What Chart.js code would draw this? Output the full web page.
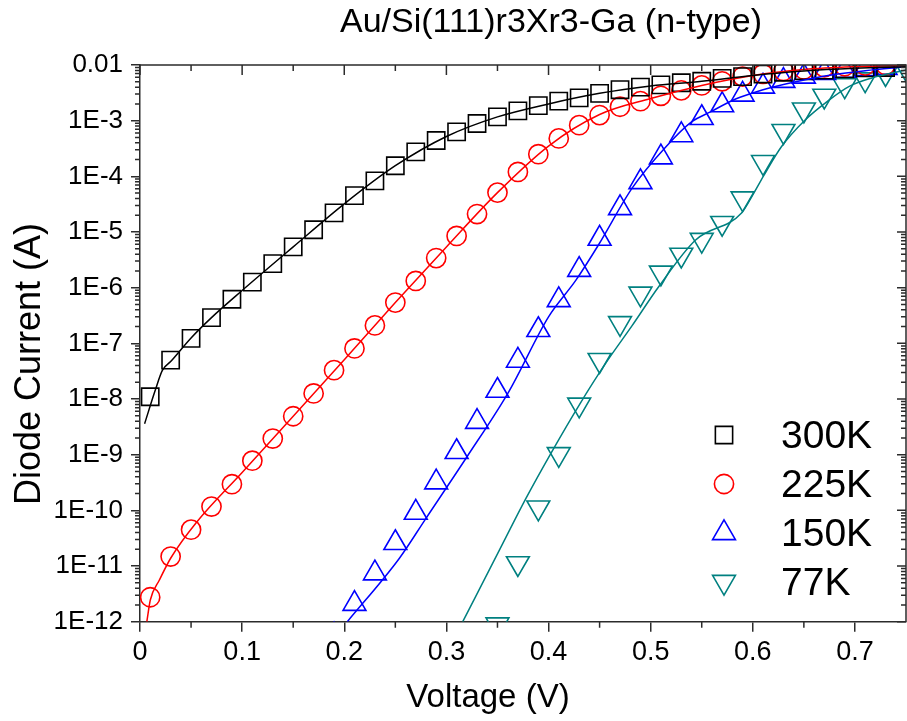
<!DOCTYPE html>
<html>
<head>
<meta charset="utf-8">
<script src="https://cdn.jsdelivr.net/npm/chart.js@4.4.1/dist/chart.umd.min.js"></script>
<style>
html,body{margin:0;padding:0;background:#fff;overflow:hidden}
#wrap{width:907px;height:721px;position:relative}
</style>
</head>
<body>
<div id="wrap"><canvas id="c" width="907" height="721"></canvas></div>
<script>
// ---------------- text ----------------
const chartTitle = 'Au/Si(111)r3Xr3-Ga (n-type)';
const xAxisTitle = 'Voltage (V)';
const yAxisTitle = 'Diode Current (A)';
const seriesNames = ['300K', '225K', '150K', '77K'];

// ---------------- ticks ----------------
const xTickValues = [0, 0.1, 0.2, 0.3, 0.4, 0.5, 0.6, 0.7];
const xTickLabels = ['0', '0.1', '0.2', '0.3', '0.4', '0.5', '0.6', '0.7'];
const xMinorTickValues = [0.05, 0.15, 0.25, 0.35, 0.45, 0.55, 0.65];
const yTickValues = [1e-12, 1e-11, 1e-10, 1e-9, 1e-8, 1e-7, 1e-6, 1e-5, 1e-4, 1e-3, 1e-2];
const yTickLabels = ['1E-12', '1E-11', '1E-10', '1E-9', '1E-8', '1E-7', '1E-6', '1E-5', '1E-4', '1E-3', '0.01'];
const yMinorMultipliers = [2, 3, 4, 5, 6, 7, 8, 9];

// ---------------- measured data (V, A) ----------------
const v300 = [0.01,0.03,0.05,0.07,0.09,0.11,0.13,0.15,0.17,0.19,0.21,0.23,0.25,0.27,0.29,0.31,0.33,0.35,0.37,0.39,0.41,0.43,0.45,0.47,0.49,0.51,0.53,0.55,0.57,0.59,0.61,0.63,0.65,0.67,0.69,0.71,0.73];
const i300 = [1.1e-8,5.0e-8,1.23e-7,2.9e-7,6.2e-7,1.26e-6,2.7e-6,5.4e-6,1.1e-5,2.2e-5,4.5e-5,8.3e-5,1.55e-4,2.75e-4,4.4e-4,6.3e-4,8.9e-4,1.17e-3,1.5e-3,1.86e-3,2.24e-3,2.57e-3,3.1e-3,3.6e-3,4.0e-3,4.4e-3,4.8e-3,5.1e-3,5.75e-3,6.2e-3,6.9e-3,7.4e-3,7.9e-3,8.1e-3,8.5e-3,8.9e-3,9.0e-3];

const v225 = [0.01,0.03,0.05,0.07,0.09,0.11,0.13,0.15,0.17,0.19,0.21,0.23,0.25,0.27,0.29,0.31,0.33,0.35,0.37,0.39,0.41,0.43,0.45,0.47,0.49,0.51,0.53,0.55,0.57,0.59,0.61,0.63,0.65,0.67,0.69,0.71,0.73];
const i225 = [2.75e-12,1.48e-11,4.5e-11,1.17e-10,2.95e-10,7.8e-10,1.95e-9,4.9e-9,1.26e-8,3.3e-8,8.1e-8,2.1e-7,5.4e-7,1.32e-6,3.4e-6,8.5e-6,2.1e-5,5.1e-5,1.2e-4,2.5e-4,4.8e-4,8.3e-4,1.26e-3,1.78e-3,2.24e-3,2.8e-3,3.5e-3,4.3e-3,5.1e-3,6.2e-3,6.9e-3,7.8e-3,8.3e-3,9.1e-3,9.5e-3,9.8e-3,1.0e-2];

const v150 = [0.19,0.21,0.23,0.25,0.27,0.29,0.31,0.33,0.35,0.37,0.39,0.41,0.43,0.45,0.47,0.49,0.51,0.53,0.55,0.57,0.59,0.61,0.63,0.65,0.67,0.69,0.71,0.73];
const i150 = [5.7e-13,2.1e-12,7.4e-12,2.6e-11,9.1e-11,3.2e-10,1.12e-9,3.9e-9,1.41e-8,4.9e-8,1.74e-7,6.0e-7,2.1e-6,7.6e-6,2.7e-5,7.9e-5,2.2e-4,5.5e-4,1.12e-3,1.9e-3,2.95e-3,4.1e-3,5.2e-3,6.2e-3,7.2e-3,7.9e-3,8.5e-3,8.9e-3];

const v77 = [0.35,0.37,0.39,0.41,0.43,0.45,0.47,0.49,0.51,0.53,0.55,0.57,0.59,0.61,0.63,0.65,0.67,0.69,0.71,0.73,0.75];
const i77 = [8.9e-13,1.12e-11,1.12e-10,1.02e-9,7.9e-9,5.0e-8,2.3e-7,7.8e-7,1.86e-6,3.9e-6,7.2e-6,1.45e-5,4.0e-5,1.8e-4,6.5e-4,1.58e-3,2.8e-3,4.3e-3,5.5e-3,7.1e-3,8.7e-3];

// ---------------- fitted curves ----------------
const fitV300 = [0.0045,0.015,0.022,0.03,0.05,0.07,0.1,0.15,0.2,0.25,0.3,0.35,0.4,0.45,0.5,0.55,0.6,0.65,0.7,0.75];
const fitI300 = [3.6e-9,1.45e-8,3.3e-8,4.7e-8,1.25e-7,2.9e-7,8.9e-7,5.4e-6,3.2e-5,1.55e-4,5.2e-4,1.17e-3,2.0e-3,3.1e-3,4.2e-3,5.1e-3,6.5e-3,7.8e-3,8.7e-3,9.3e-3];

const fitV225 = [0.0067,0.0101,0.019,0.03,0.055,0.1,0.15,0.2,0.25,0.3,0.35,0.4,0.45,0.5,0.55,0.6,0.65,0.7,0.75];
const fitI225 = [1.0e-12,2.45e-12,5.6e-12,1.38e-11,6.0e-11,4.8e-10,4.9e-9,5.1e-8,5.4e-7,5.4e-6,5.1e-5,3.5e-4,1.29e-3,2.5e-3,4.3e-3,6.5e-3,8.3e-3,9.3e-3,9.8e-3];

const fitV150 = [0.203,0.254,0.28,0.32,0.361,0.40,0.427,0.449,0.482,0.515,0.54,0.559,0.58,0.599,0.622,0.642,0.677,0.71,0.75];
const fitI150 = [1.0e-12,1.38e-11,7.2e-11,9.1e-10,1.35e-8,3.0e-7,1.38e-6,5.9e-6,6.2e-5,3.4e-4,9.5e-4,1.45e-3,2.3e-3,3.1e-3,4.1e-3,5.0e-3,6.6e-3,7.9e-3,9.3e-3];

const fitV77 = [0.316,0.352,0.378,0.404,0.43,0.456,0.482,0.508,0.544,0.589,0.601,0.611,0.628,0.651,0.674,0.694,0.716,0.75];
const fitI77 = [1.0e-12,1.95e-11,1.66e-10,1.2e-9,7.8e-9,4.4e-8,2.1e-7,1.05e-6,7.2e-6,2.2e-5,5.0e-5,1.05e-4,3.4e-4,1.02e-3,2.3e-3,4.1e-3,5.8e-3,8.1e-3];

// ---------------- styling / layout ----------------
const FONT = "'Liberation Sans', Arial, Helvetica, sans-serif";
const COLORS = ['#000000', '#ff0000', '#0000ff', '#008080'];
const AXIS_COLOR = '#2b2b2b';

const pts = (xs, ys) => xs.map((x, i) => ({x: x, y: ys[i]}));

function markerDataset(label, xs, ys, color, style, radius, rotation) {
  return {
    label: label, data: pts(xs, ys), showLine: false,
    pointStyle: style, pointRadius: radius, pointHoverRadius: radius,
    pointRotation: rotation || 0, pointBorderWidth: 1.6,
    borderColor: color, pointBorderColor: color,
    backgroundColor: 'rgba(0,0,0,0)', pointBackgroundColor: 'rgba(0,0,0,0)',
    inLegend: true, clip: 0
  };
}
function fitDataset(xs, ys, color) {
  return {
    label: '', data: pts(xs, ys), showLine: true, pointRadius: 0, pointHoverRadius: 0,
    borderColor: color, borderWidth: 1.5, backgroundColor: color,
    cubicInterpolationMode: 'monotone', inLegend: false, clip: 0
  };
}

const datasets = [
  fitDataset(fitV300, fitI300, COLORS[0]),
  fitDataset(fitV225, fitI225, COLORS[1]),
  fitDataset(fitV150, fitI150, COLORS[2]),
  fitDataset(fitV77, fitI77, COLORS[3]),
  markerDataset(seriesNames[0], v300, i300, COLORS[0], 'rect', 12.2),
  markerDataset(seriesNames[1], v225, i225, COLORS[1], 'circle', 9.6),
  markerDataset(seriesNames[2], v150, i150, COLORS[2], 'triangle', 13.2, 0),
  markerDataset(seriesNames[3], v77, i77, COLORS[3], 'triangle', 13.2, 180)
];

// draw one hollow marker (for the legend)
function drawMarker(ctx, style, x, y, r, rot, color, lw) {
  ctx.save();
  ctx.strokeStyle = color; ctx.lineWidth = lw;
  ctx.beginPath();
  if (style === 'rect') {
    const s = Math.SQRT1_2 * r;
    ctx.rect(x - s, y - s, 2 * s, 2 * s);
  } else if (style === 'circle') {
    ctx.arc(x, y, r, 0, Math.PI * 2);
  } else {
    let a = (rot || 0) * Math.PI / 180;
    ctx.moveTo(x + Math.sin(a) * r, y - Math.cos(a) * r);
    a += 2 * Math.PI / 3;
    ctx.lineTo(x + Math.sin(a) * r, y - Math.cos(a) * r);
    a += 2 * Math.PI / 3;
    ctx.lineTo(x + Math.sin(a) * r, y - Math.cos(a) * r);
    ctx.closePath();
  }
  ctx.stroke();
  ctx.restore();
}

const LEGEND_BOX = {markerX: 724, textX: 781, firstY: 435, rowGap: 49, fontSize: 39};
const TITLE_POS = {x: 551, y: 32, fontSize: 34};
const XTITLE_POS = {x: 488, y: 707, fontSize: 33};
const YTITLE_POS = {x: 40, y: 364, fontSize: 36};

const decorPlugin = {
  id: 'decor',
  afterDraw(chart) {
    const ctx = chart.ctx, a = chart.chartArea;
    const xs = chart.scales.x, ys = chart.scales.y;
    ctx.save();
    ctx.strokeStyle = AXIS_COLOR;
    ctx.lineWidth = 1.5;
    // mirrored top & right axis lines
    ctx.beginPath();
    ctx.moveTo(a.left, a.top); ctx.lineTo(a.right, a.top); ctx.lineTo(a.right, a.bottom);
    ctx.stroke();
    ctx.beginPath();
    // x ticks: minor outward bottom, top inward (major + minor)
    xMinorTickValues.forEach(v => {
      const p = xs.getPixelForValue(v);
      ctx.moveTo(p, a.bottom); ctx.lineTo(p, a.bottom + 6);
      ctx.moveTo(p, a.top); ctx.lineTo(p, a.top + 6);
    });
    xTickValues.forEach(v => {
      const p = xs.getPixelForValue(v);
      ctx.moveTo(p, a.top); ctx.lineTo(p, a.top + 10);
    });
    // y ticks
    yTickValues.forEach((v, i) => {
      const p = ys.getPixelForValue(v);
      ctx.moveTo(a.right, p); ctx.lineTo(a.right - 9, p);
      if (i < yTickValues.length - 1) {
        yMinorMultipliers.forEach(m => {
          const q = ys.getPixelForValue(v * m);
          ctx.moveTo(a.left, q); ctx.lineTo(a.left - 5, q);
          ctx.moveTo(a.right, q); ctx.lineTo(a.right - 5, q);
        });
      }
    });
    ctx.stroke();

    ctx.fillStyle = '#000';
    ctx.textAlign = 'center';
    ctx.textBaseline = 'alphabetic';
    // chart title
    ctx.font = TITLE_POS.fontSize + 'px ' + FONT;
    ctx.fillText(chartTitle, TITLE_POS.x, TITLE_POS.y);
    // x axis title
    ctx.font = XTITLE_POS.fontSize + 'px ' + FONT;
    ctx.fillText(xAxisTitle, XTITLE_POS.x, XTITLE_POS.y);
    // y axis title (rotated)
    ctx.save();
    ctx.translate(YTITLE_POS.x, YTITLE_POS.y);
    ctx.rotate(-Math.PI / 2);
    ctx.font = YTITLE_POS.fontSize + 'px ' + FONT;
    ctx.fillText(yAxisTitle, 0, 0);
    ctx.restore();

    // legend
    let row = 0;
    chart.data.datasets.forEach(ds => {
      if (!ds.inLegend) return;
      const y = LEGEND_BOX.firstY + row * LEGEND_BOX.rowGap;
      drawMarker(ctx, ds.pointStyle, LEGEND_BOX.markerX, y, ds.pointRadius, ds.pointRotation, ds.borderColor, ds.pointBorderWidth);
      ctx.fillStyle = '#000';
      ctx.font = LEGEND_BOX.fontSize + 'px ' + FONT;
      ctx.textAlign = 'left';
      ctx.textBaseline = 'middle';
      ctx.fillText(ds.label, LEGEND_BOX.textX, y + 2);
      row++;
    });
    ctx.restore();
  }
};

new Chart(document.getElementById('c'), {
  type: 'scatter',
  data: {datasets: datasets},
  options: {
    responsive: false,
    animation: false,
    devicePixelRatio: 1,
    layout: {autoPadding: false, padding: {top: 65, right: 1, left: 0, bottom: 0}},
    plugins: {legend: {display: false}, title: {display: false}, tooltip: {enabled: false}},
    scales: {
      x: {
        type: 'linear', position: 'bottom', min: 0, max: 0.75,
        afterBuildTicks: s => { s.ticks = xTickValues.map(v => ({value: v})); },
        afterFit: s => { s.height = 99.3; s.paddingLeft = 0; s.paddingRight = 0; },
        ticks: {
          callback: (v, i) => xTickLabels[i], autoSkip: false, maxRotation: 0,
          color: '#000', padding: 5, font: {family: FONT, size: 27}
        },
        grid: {drawOnChartArea: false, drawTicks: true, tickLength: 10, color: AXIS_COLOR, lineWidth: 1.5},
        border: {display: true, color: AXIS_COLOR, width: 1.5},
        title: {display: false, text: xAxisTitle}
      },
      y: {
        type: 'logarithmic', position: 'left', min: 1e-12, max: 1e-2,
        afterBuildTicks: s => { s.ticks = yTickValues.map(v => ({value: v, major: true})); },
        afterFit: s => { s.width = 140; s.paddingTop = 0; s.paddingBottom = 0; },
        ticks: {
          callback: (v, i) => yTickLabels[i], autoSkip: false,
          color: '#000', padding: 8, font: {family: FONT, size: 26}
        },
        grid: {drawOnChartArea: false, drawTicks: true, tickLength: 9, color: AXIS_COLOR, lineWidth: 1.5},
        border: {display: true, color: AXIS_COLOR, width: 1.5},
        title: {display: false, text: yAxisTitle}
      }
    }
  },
  plugins: [decorPlugin]
});
</script>
</body>
</html>
